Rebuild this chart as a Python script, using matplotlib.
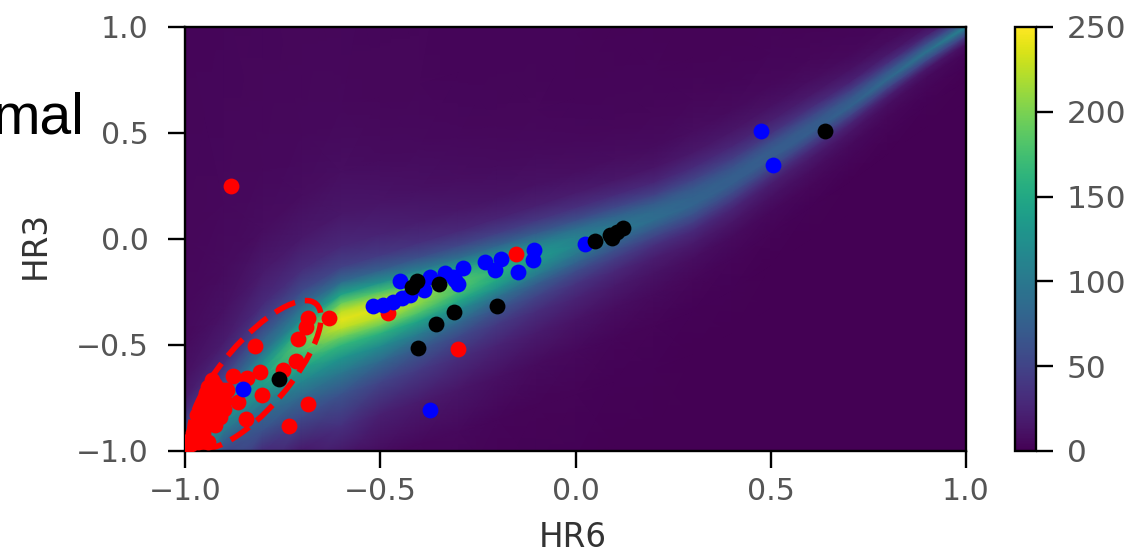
import matplotlib
matplotlib.use("Agg")
import matplotlib.pyplot as plt
import numpy as np
from matplotlib.patches import Ellipse

hr6_grid = [-1.0, -0.9, -0.8, -0.7, -0.6, -0.5, -0.4, -0.3, -0.2, -0.1, 0.0,
            0.1, 0.2, 0.3, 0.4, 0.5, 0.6, 0.7, 0.8, 0.9, 1.0]
ridge_hr3 = [-1.0, -0.83, -0.65, -0.49, -0.38, -0.325, -0.265, -0.21, -0.15, -0.09, -0.03,
             0.03, 0.09, 0.16, 0.26, 0.38, 0.50, 0.62, 0.755, 0.885, 1.0]
ridge_offsets = [-2.0, -1.0, -0.7, -0.5, -0.35, -0.25, -0.18, -0.12, -0.08, -0.04, 0.0,
                 0.04, 0.08, 0.12, 0.18, 0.25, 0.35, 0.5, 0.7, 1.0, 2.0]
density_columns = [
    [130, 130, 130, 130, 130, 130, 130, 130, 130, 130, 130, 115, 85, 55, 32, 18, 11, 7, 5, 4, 3],
    [10, 20, 30, 40, 45, 48, 50, 75, 95, 110, 118, 112, 95, 75, 50, 30, 18, 11, 7, 5, 3],
    [4, 8, 12, 20, 30, 62, 80, 105, 122, 135, 140, 135, 118, 95, 75, 50, 30, 17, 8, 5, 3],
    [1, 4, 10, 18, 55, 85, 115, 140, 160, 175, 185, 175, 145, 115, 85, 55, 32, 16, 8, 5, 3],
    [1, 3, 7, 35, 65, 100, 130, 165, 195, 225, 240, 225, 190, 145, 85, 48, 28, 15, 9, 5, 3],
    [1, 2, 6, 22, 50, 85, 120, 160, 195, 225, 235, 215, 175, 125, 75, 42, 24, 13, 7, 4, 3],
    [1, 2, 5, 18, 42, 70, 105, 145, 180, 205, 210, 190, 150, 105, 60, 34, 19, 10, 6, 4, 3],
    [1, 2, 5, 14, 32, 55, 85, 120, 150, 175, 185, 170, 130, 90, 52, 28, 15, 8, 5, 3, 3],
    [0, 1, 3, 10, 24, 42, 65, 95, 125, 150, 160, 145, 115, 80, 45, 24, 12, 7, 4, 3, 3],
    [1, 1, 2, 7, 18, 32, 50, 75, 100, 122, 135, 125, 100, 70, 40, 21, 11, 6, 4, 3, 3],
    [0, 1, 2, 5, 13, 24, 38, 58, 80, 100, 115, 108, 88, 60, 34, 18, 9, 5, 3, 3, 2],
    [0, 0, 1, 3, 9, 17, 28, 45, 62, 82, 100, 95, 78, 54, 30, 15, 8, 4, 3, 2, 2],
    [0, 0, 1, 2, 6, 12, 20, 34, 50, 70, 88, 85, 70, 48, 26, 13, 7, 4, 3, 2, 2],
    [0, 0, 0, 1, 4, 9, 17, 30, 46, 65, 80, 78, 68, 50, 30, 16, 8, 4, 2, 2, 2],
    [0, 0, 0, 1, 3, 7, 14, 25, 40, 58, 74, 74, 62, 44, 26, 14, 7, 3, 2, 2, 2],
    [0, 0, 0, 0, 2, 5, 11, 20, 34, 55, 72, 72, 58, 38, 21, 11, 5, 3, 2, 2, 2],
    [0, 0, 0, 0, 1, 4, 9, 17, 30, 52, 74, 70, 52, 32, 16, 8, 4, 2, 2, 2, 2],
    [0, 0, 0, 0, 0, 3, 6, 13, 24, 50, 78, 68, 44, 23, 11, 5, 3, 2, 2, 2, 2],
    [0, 0, 0, 0, 0, 2, 4, 9, 20, 50, 85, 65, 34, 16, 7, 4, 2, 2, 2, 2, 2],
    [0, 0, 0, 0, 0, 1, 3, 6, 16, 54, 95, 58, 22, 9, 4, 2, 2, 2, 2, 2, 2],
    [0, 0, 0, 0, 0, 0, 1, 3, 10, 50, 110, 50, 10, 3, 2, 2, 2, 2, 2, 2, 2],
]

red_hr6 = [-0.882, -0.631, -0.48, -0.30, -0.152, -0.685, -0.734, -0.685, -0.69, -0.71, -0.716,
           -0.749, -0.808, -0.82, -0.877, -0.84, -0.803, -0.864, -0.844, -0.923, -0.91, -0.936,
           -0.902, -0.953, -0.927, -0.944, -0.962, -0.923, -0.979, -0.953, -0.987, -0.966,
           -0.94, -0.974, -0.919, -0.893, -0.932, -0.945, -0.96, -0.93, -0.985, -0.995,
           -0.92, -0.90, -0.95, -0.91, -0.90, -0.94, -0.915, -0.97]
red_hr3 = [0.25, -0.373, -0.35, -0.519, -0.071, -0.778, -0.882, -0.373, -0.415, -0.47, -0.575,
           -0.618, -0.627, -0.505, -0.646, -0.656, -0.736, -0.769, -0.849, -0.689, -0.728, -0.744,
           -0.712, -0.775, -0.791, -0.822, -0.854, -0.877, -0.917, -0.917, -0.948, -0.956,
           -0.956, -0.885, -0.76, -0.712, -0.665, -0.728, -0.81, -0.85, -0.965, -0.975,
           -0.80, -0.76, -0.85, -0.84, -0.80, -0.70, -0.72, -0.83]

blue_hr6 = [-0.851, -0.373, -0.519, -0.493, -0.467, -0.444, -0.424, -0.449, -0.388, -0.373, -0.334,
            -0.314, -0.301, -0.309, -0.288, -0.232, -0.206, -0.191, -0.147, -0.109, -0.106, 0.024,
            0.475, 0.506]
blue_hr3 = [-0.708, -0.807, -0.316, -0.311, -0.297, -0.278, -0.264, -0.198, -0.241, -0.179, -0.16,
            -0.179, -0.212, -0.193, -0.137, -0.108, -0.146, -0.094, -0.156, -0.099, -0.052, -0.024,
            0.509, 0.349]

black_hr6 = [0.639, 0.05, 0.088, 0.106, 0.122, 0.094, -0.201, -0.311, -0.357, -0.403, -0.35, -0.406,
             -0.419, -0.759]
black_hr3 = [0.509, -0.009, 0.019, 0.033, 0.052, 0.005, -0.316, -0.344, -0.401, -0.514, -0.212, -0.198,
             -0.226, -0.66]

hr_ticks = [-1.0, -0.5, 0.0, 0.5, 1.0]
colorbar_ticks = [0, 50, 100, 150, 200, 250]

GREY = "#555555"

fig = plt.figure(figsize=(11.3, 5.53), dpi=100)
ax = fig.add_axes([185 / 1130, 1 - 451 / 553, (966 - 185) / 1130, (451 - 27) / 553])
cax = fig.add_axes([1015 / 1130, 1 - 451 / 553, (1036 - 1015) / 1130, (451 - 27) / 553])

# mesh follows the ridge so the shading runs along it
density = np.array(density_columns).T
mesh_x = np.tile(hr6_grid, (len(ridge_offsets), 1))
mesh_y = np.add.outer(ridge_offsets, ridge_hr3)
image = ax.pcolormesh(mesh_x, mesh_y, density, cmap="viridis", vmin=0, vmax=250, shading="gouraud")

ax.add_patch(Ellipse((-0.82, -0.64), 0.2, 0.75, angle=-22, fill=False, edgecolor="red",
                     linewidth=4, linestyle=(0, (4, 1.8)), zorder=2))
ax.scatter(red_hr6, red_hr3, s=130, c="red", linewidths=0, zorder=3)
ax.scatter(blue_hr6, blue_hr3, s=130, c="blue", linewidths=0, zorder=4)
ax.scatter(black_hr6, black_hr3, s=130, c="black", linewidths=0, zorder=5)

ax.set_xlim(-1, 1)
ax.set_ylim(-1, 1)
ax.set_xticks(hr_ticks)
ax.set_yticks(hr_ticks)
ax.set_xlabel("HR6", fontsize=23.5, color="#333333", va="center")
ax.set_ylabel("HR3", fontsize=23.5, color="#333333", va="center")
ax.xaxis.set_label_coords(0.497, -0.205)
ax.yaxis.set_label_coords(-0.192, 0.486)
ax.tick_params(length=12, width=1.7, labelsize=21.5, labelcolor=GREY)
ax.tick_params(axis="x", pad=7)
ax.tick_params(axis="y", pad=14)
for spine in ax.spines.values():
    spine.set_linewidth(1.7)

colorbar = fig.colorbar(image, cax=cax)
colorbar.set_ticks(colorbar_ticks)
colorbar.ax.tick_params(length=12, width=1.7, labelsize=22.5, labelcolor=GREY, pad=10)
colorbar.outline.set_linewidth(1.7)

fig.text(-8 / 1130, 1 - 133 / 553, "mal", fontsize=41, family="Liberation Sans", color="black",
         ha="left", va="baseline")

fig.savefig("out.png", dpi=100)
plt.close(fig)
